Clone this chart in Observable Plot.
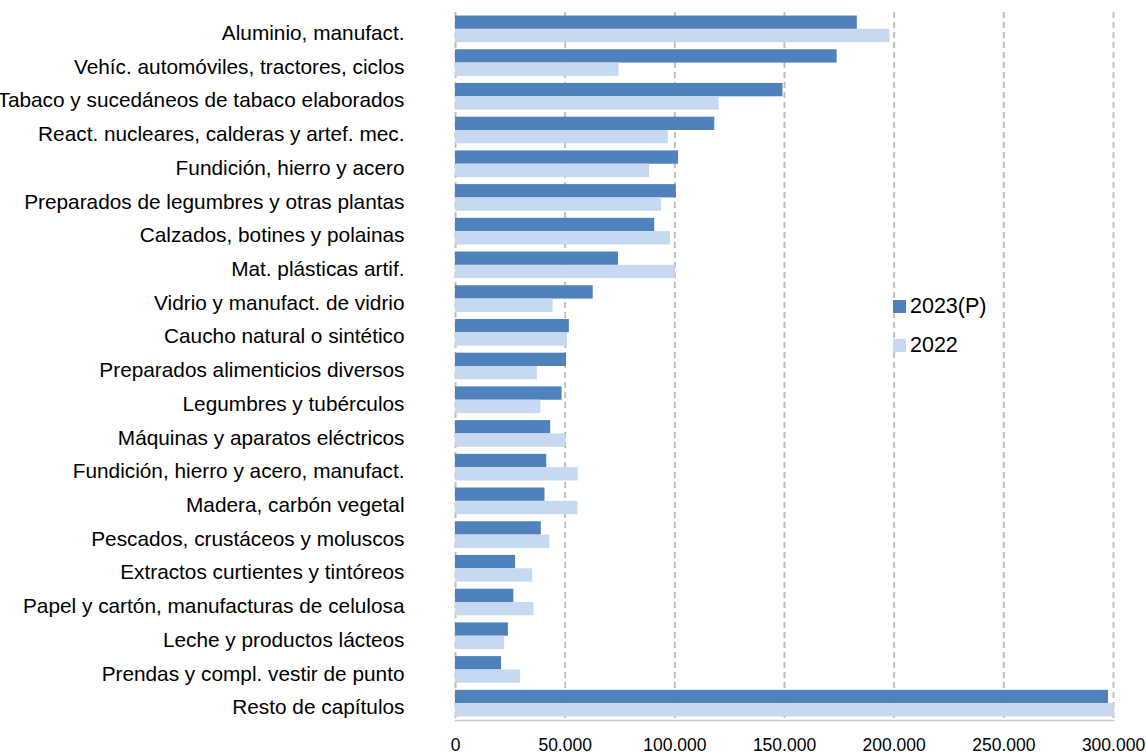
<!DOCTYPE html>
<html><head><meta charset="utf-8">
<script src="https://cdn.jsdelivr.net/npm/d3@7"></script>
<script src="https://cdn.jsdelivr.net/npm/@observablehq/plot@0.6"></script>
<style>
body{margin:0;background:#fff;}
#wrap{position:relative;width:1146px;height:754px;font-family:"Liberation Sans",Arial,sans-serif;}
.legend{position:absolute;left:893px;top:287px;font-size:21.5px;color:#000;line-height:39px;}
.legend .item{display:flex;align-items:center;height:39px;}
.legend .sw{width:13px;height:13px;margin-right:4px;}
</style></head><body><div id="wrap"></div>
<script>
const categories = [
  "Aluminio, manufact.",
  "Vehíc. automóviles, tractores, ciclos",
  "Tabaco y sucedáneos de tabaco elaborados",
  "React. nucleares, calderas y artef. mec.",
  "Fundición, hierro y acero",
  "Preparados de legumbres y otras plantas",
  "Calzados, botines y polainas",
  "Mat. plásticas artif.",
  "Vidrio y manufact. de vidrio",
  "Caucho natural o sintético",
  "Preparados alimenticios diversos",
  "Legumbres y tubérculos",
  "Máquinas y aparatos eléctricos",
  "Fundición, hierro y acero, manufact.",
  "Madera, carbón vegetal",
  "Pescados, crustáceos y moluscos",
  "Extractos curtientes y tintóreos",
  "Papel y cartón, manufacturas de celulosa",
  "Leche y productos lácteos",
  "Prendas y compl. vestir de punto",
  "Resto de capítulos"
];
const v2023 = [183200, 174000, 149300, 118200, 101700, 100700, 90800, 74300, 62800, 51900, 50600, 48600, 43400, 41600, 40800, 39100, 27400, 26600, 24100, 21000, 297700];
const v2022 = [198100, 74500, 120200, 97000, 88500, 93900, 98000, 100300, 44500, 51100, 37300, 38900, 50200, 56000, 55800, 43000, 35200, 35800, 22400, 29600, 300500];
const seriesNames = ["2023(P)", "2022"];
const seriesColors = ["#4F81BD", "#C6D9F0"];
const xTicks = [0, 50000, 100000, 150000, 200000, 250000, 300000];

const rows = categories.map((c, i) => ({category: c, a: v2023[i], b: v2022[i]}));

const W = 1146, H = 754, mT = 12, mB = 34, mL = 455, mR = 33;
const pIn = 0.21, pOut = 0.105;
const step = (H - mT - mB) / (categories.length - pIn + 2 * pOut);
const half = step * (1 - pIn) / 2;

const fmt = d3.formatLocale({thousands: ".", grouping: [3], decimal: ",", currency: ["", ""]}).format(",d");

const chart = Plot.plot({
  width: W, height: H,
  marginTop: mT, marginBottom: mB, marginLeft: mL, marginRight: mR,
  style: {fontFamily: "'Liberation Sans', Arial, sans-serif", fontSize: "20px", color: "#000", background: "white", overflow: "visible"},
  x: {domain: [0, 300000]},
  y: {domain: categories, paddingInner: pIn, paddingOuter: pOut, round: false},
  marks: [
    Plot.gridX(xTicks, {stroke: "#bfbfbf", strokeOpacity: 1, strokeWidth: 2, strokeDasharray: "6,4"}),
    Plot.frame({anchor: "bottom", stroke: "#c8c8c8", strokeWidth: 1.5}),
    Plot.barX(rows, {x: "a", y: "category", fill: seriesColors[0], insetBottom: half, insetTop: 0}),
    Plot.barX(rows, {x: "b", y: "category", fill: seriesColors[1], insetTop: half, insetBottom: 0}),
    Plot.axisY({tickSize: 0, tickPadding: 51, fontSize: 20.8, dy: 4, label: null}),
    Plot.axisX({ticks: xTicks, tickFormat: fmt, tickSize: 0, tickPadding: 18, fontSize: 17.5, label: null})
  ]
});
const wrap = document.getElementById("wrap");
wrap.appendChild(chart);
const leg = document.createElement("div");
leg.className = "legend";
seriesNames.forEach((s, i) => {
  const it = document.createElement("div");
  it.className = "item";
  const sw = document.createElement("span");
  sw.className = "sw";
  sw.style.background = seriesColors[i];
  const t = document.createElement("span");
  t.textContent = s;
  it.appendChild(sw); it.appendChild(t);
  leg.appendChild(it);
});
wrap.appendChild(leg);
</script>
</body></html>
